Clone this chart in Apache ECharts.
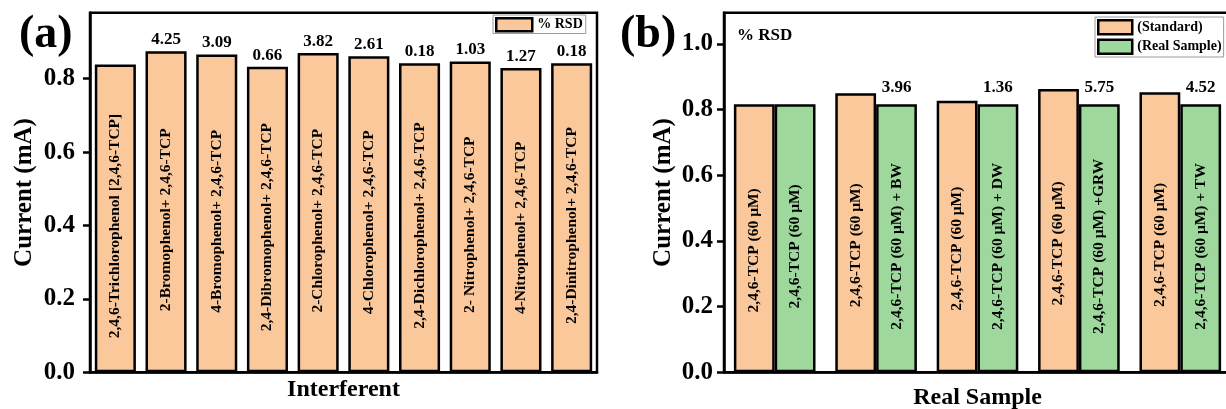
<!DOCTYPE html>
<html>
<head>
<meta charset="utf-8">
<script src="https://cdn.jsdelivr.net/npm/echarts@6/dist/echarts.min.js"></script>
<style>
  html, body { margin: 0; padding: 0; background: #fff; }
  #chart { width: 1226px; height: 409px; }
</style>
</head>
<body>
<div id="chart"></div>
<script>
// Panel (a): interferent study
const interferents = [
  '2,4,6-Trichlorophenol [2,4,6-TCP]',
  '2-Bromophenol+ 2,4,6-TCP',
  '4-Bromophenol+ 2,4,6-TCP',
  '2,4-Dibromophenol+ 2,4,6-TCP',
  '2-Chlorophenol+ 2,4,6-TCP',
  '4-Chlorophenol+ 2,4,6-TCP',
  '2,4-Dichlorophenol+ 2,4,6-TCP',
  '2- Nitrophenol+ 2,4,6-TCP',
  '4-Nitrophenol+ 2,4,6-TCP',
  '2,4-Dinitrophenol+ 2,4,6-TCP'
];
const currentA = [0.839, 0.875, 0.866, 0.833, 0.870, 0.861, 0.842, 0.847, 0.829, 0.842];
const rsdA = [null, '4.25', '3.09', '0.66', '3.82', '2.61', '0.18', '1.03', '1.27', '0.18'];

// Panel (b): real sample study
const sampleGroups = ['TCP', 'BW', 'DW', 'GRW', 'TW'];
const standardLabels = ['2,4,6-TCP (60 \u03bcM)', '2,4,6-TCP (60 \u03bcM)', '2,4,6-TCP (60 \u03bcM)', '2,4,6-TCP (60 \u03bcM)', '2,4,6-TCP (60 \u03bcM)'];
const realLabels = ['2,4,6-TCP (60 \u03bcM)', '2,4,6-TCP (60 \u03bcM) + BW', '2,4,6-TCP (60 \u03bcM) + DW', '2,4,6-TCP (60 \u03bcM) +GRW', '2,4,6-TCP (60 \u03bcM) + TW'];
const standardCurrent = [0.816, 0.850, 0.827, 0.863, 0.853];
const realCurrent = [0.816, 0.816, 0.816, 0.816, 0.816];
const rsdB = [null, '3.96', '1.36', '5.75', '4.52'];

const yTicks = [0, 0.2, 0.4, 0.6, 0.8];
const yTicksB = [0, 0.2, 0.4, 0.6, 0.8, 1.0];

const FONT = "'Liberation Serif', 'Times New Roman', serif";
const ORANGE = '#FAC89A';
const GREEN = '#9ED89C';
const BW = 2.5;

const chart = echarts.init(document.getElementById('chart'), null, { renderer: 'canvas' });

function yAxisCfg(gridIndex, max, ticks, nameGap, margin) {
  return {
    type: 'value', gridIndex: gridIndex, min: 0, max: max, interval: 0.2,
    name: 'Current (mA)', nameLocation: 'middle', nameGap: nameGap,
    nameTextStyle: { fontFamily: FONT, fontWeight: 'bold', fontSize: 25, color: '#000' },
    splitLine: { show: false },
    axisLine: { show: true, lineStyle: { color: '#000', width: BW } },
    axisTick: { show: true, inside: false, length: 7, customValues: ticks, lineStyle: { color: '#000', width: BW } },
    axisLabel: {
      customValues: ticks, margin: margin,
      fontFamily: FONT, fontWeight: 'bold', fontSize: 25, color: '#000',
      formatter: v => v.toFixed(1)
    }
  };
}

const innerLabelStyle = {
  fontFamily: FONT, fontWeight: 'bold', fontSize: 15.5, color: '#000'
};
const rsdLabelStyle = {
  fontFamily: FONT, fontWeight: 'bold', fontSize: 17, color: '#000'
};

const option = {
  backgroundColor: '#fff',
  animation: false,
  grid: [
    { left: 90, right: 629, top: 12.7, bottom: 36.7, show: true, borderColor: '#000', borderWidth: BW,
      backgroundColor: 'transparent', outerBoundsMode: 'none', containLabel: false },
    { left: 724, width: 507, top: 12.7, bottom: 36.7, show: true, borderColor: '#000', borderWidth: BW,
      backgroundColor: 'transparent', outerBoundsMode: 'none', containLabel: false }
  ],
  xAxis: [
    {
      type: 'category', gridIndex: 0, data: interferents,
      name: 'Interferent', nameLocation: 'middle', nameGap: 5,
      nameTextStyle: { fontFamily: FONT, fontWeight: 'bold', fontSize: 24, color: '#000' },
      axisLine: { lineStyle: { color: '#000', width: BW } },
      axisTick: { show: false }, axisLabel: { show: false }, splitLine: { show: false }
    },
    {
      type: 'category', gridIndex: 1, data: sampleGroups,
      name: 'Real Sample', nameLocation: 'middle', nameGap: 13,
      nameTextStyle: { fontFamily: FONT, fontWeight: 'bold', fontSize: 24, color: '#000' },
      axisLine: { lineStyle: { color: '#000', width: BW } },
      axisTick: { show: false }, axisLabel: { show: false }, splitLine: { show: false }
    },
    // twin of the panel (b) category axis, carries the % RSD annotations
    { type: 'category', gridIndex: 1, data: sampleGroups, show: false }
  ],
  yAxis: [
    yAxisCfg(0, 0.98, yTicks, 53, 15),
    yAxisCfg(1, 1.095, yTicksB, 48, 11),
    { type: 'value', gridIndex: 1, min: 0, max: 1.095, show: false }
  ],
  legend: [
    {
      data: ['% RSD'], left: 493, top: 15, orient: 'horizontal', icon: 'rect',
      selectedMode: false, backgroundColor: '#fff', borderColor: '#9a9a9a', borderWidth: 1,
      padding: [2, 3, 1, 2], itemWidth: 36, itemHeight: 13,
      itemStyle: { color: ORANGE, borderColor: '#000', borderWidth: BW },
      textStyle: { fontFamily: FONT, fontWeight: 'bold', fontSize: 14, color: '#000' }
    },
    {
      data: ['(Standard)', '(Real Sample)'], left: 1095, top: 17, orient: 'vertical', icon: 'rect',
      selectedMode: false, backgroundColor: '#fff', borderColor: '#9a9a9a', borderWidth: 1,
      padding: [2, 2, 2, 2], itemWidth: 34, itemHeight: 14, itemGap: 3,
      itemStyle: { borderColor: '#000', borderWidth: BW },
      textStyle: { fontFamily: FONT, fontWeight: 'bold', fontSize: 14, color: '#000' }
    }
  ],
  graphic: [
    { type: 'text', left: 19, top: 12, style: { text: '(a)', font: 'bold 46px ' + FONT, fill: '#000' } },
    { type: 'text', left: 620, top: 12, style: { text: '(b)', font: 'bold 46px ' + FONT, fill: '#000' } },
    { type: 'text', left: 737, top: 27, style: { text: '% RSD', font: 'bold 17px ' + FONT, fill: '#000' } }
  ],
  series: [
    {
      name: '% RSD', type: 'bar', xAxisIndex: 0, yAxisIndex: 0,
      data: currentA, barWidth: '81%', barGap: '-100%',
      itemStyle: { color: ORANGE, borderColor: '#000', borderWidth: BW },
      label: {
        show: true, position: ['50%', '52.5%'], rotate: 90, align: 'center', verticalAlign: 'middle',
        formatter: p => interferents[p.dataIndex], ...innerLabelStyle
      }
    },
    {
      name: 'rsd-a', type: 'bar', xAxisIndex: 0, yAxisIndex: 0, silent: true,
      data: currentA, barWidth: '81%', barGap: '-100%',
      itemStyle: { color: 'transparent', borderWidth: 0 },
      label: {
        show: true, position: 'top', distance: 3,
        formatter: p => rsdA[p.dataIndex] || '', ...rsdLabelStyle
      }
    },
    {
      name: '(Standard)', type: 'bar', xAxisIndex: 1, yAxisIndex: 1,
      data: standardCurrent, barGap: '0%', barCategoryGap: '19.5%',
      itemStyle: { color: ORANGE, borderColor: '#000', borderWidth: BW },
      label: {
        show: true, position: ['50%', '54.5%'], rotate: 90, align: 'center', verticalAlign: 'middle',
        formatter: p => standardLabels[p.dataIndex], ...innerLabelStyle
      }
    },
    {
      name: '(Real Sample)', type: 'bar', xAxisIndex: 1, yAxisIndex: 1,
      data: realCurrent, barGap: '0%', barCategoryGap: '19.5%',
      itemStyle: { color: GREEN, borderColor: '#000', borderWidth: BW },
      label: {
        show: true, position: ['50%', '53%'], rotate: 90, align: 'center', verticalAlign: 'middle',
        formatter: p => realLabels[p.dataIndex], ...innerLabelStyle
      }
    },
    {
      name: 'std-twin', type: 'bar', xAxisIndex: 2, yAxisIndex: 2, silent: true,
      data: standardCurrent, barGap: '0%', barCategoryGap: '19.5%',
      itemStyle: { color: 'transparent', borderWidth: 0 }
    },
    {
      name: 'rsd-b', type: 'bar', xAxisIndex: 2, yAxisIndex: 2, silent: true,
      data: realCurrent, barGap: '0%', barCategoryGap: '19.5%',
      itemStyle: { color: 'transparent', borderWidth: 0 },
      label: {
        show: true, position: 'top', distance: 8,
        formatter: p => rsdB[p.dataIndex] || '', ...rsdLabelStyle
      }
    }
  ]
};

chart.setOption(option);
</script>
</body>
</html>
